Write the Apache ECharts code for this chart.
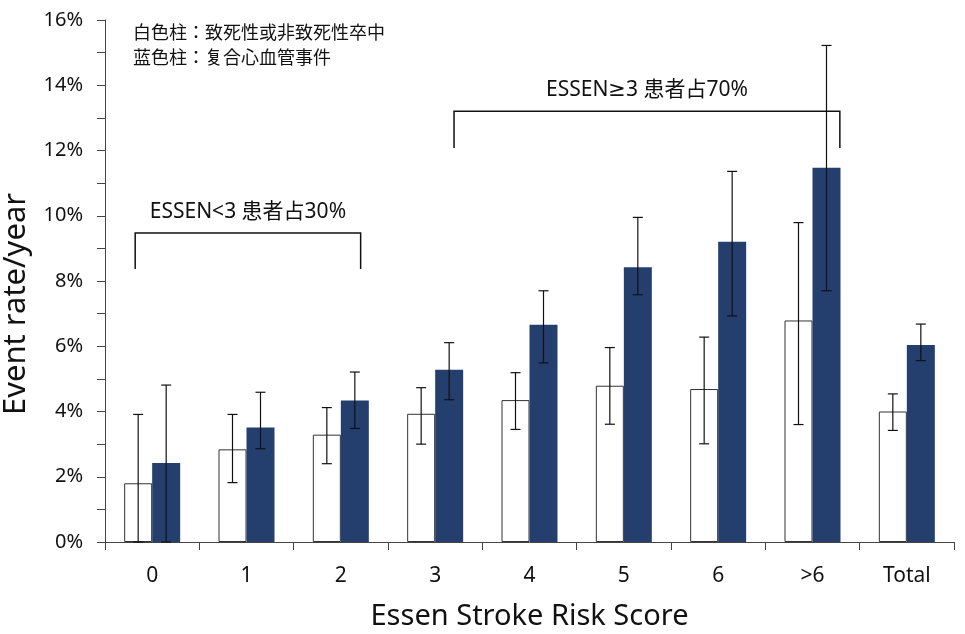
<!DOCTYPE html>
<html>
<head>
<meta charset="utf-8">
<script src="https://cdn.jsdelivr.net/npm/echarts@6/dist/echarts.min.js"></script>
<style>html,body{margin:0;padding:0;background:#fff}#c{width:965px;height:634px}</style>
</head>
<body>
<div id="c"></div>
<script>
var categories = ['0', '1', '2', '3', '4', '5', '6', '>6', 'Total'];
var strokeRate = [1.80, 2.84, 3.29, 3.93, 4.35, 4.79, 4.69, 6.79, 4.00];
var strokeLow  = [0, 1.82, 2.40, 3.00, 3.45, 3.61, 3.01, 3.60, 3.42];
var strokeHigh = [3.91, 3.91, 4.12, 4.73, 5.19, 5.96, 6.28, 9.79, 4.54];
var cvRate = [2.42, 3.51, 4.34, 5.28, 6.66, 8.42, 9.20, 11.47, 6.04];
var cvLow  = [0, 2.86, 3.48, 4.36, 5.49, 7.58, 6.93, 7.70, 5.56];
var cvHigh = [4.81, 4.59, 5.21, 6.11, 7.70, 9.95, 11.36, 15.22, 6.68];
var yTicks = [0, 2, 4, 6, 8, 10, 12, 14, 16];
var legendLines = ['白色柱：致死性或非致死性卒中', '蓝色柱：复合心血管事件'];
var bracketTexts = ['ESSEN<3 患者占30%', 'ESSEN≥3 患者占70%'];
// [start category offset, end category offset, top value, bottom value]
var bracketSpans = [[-0.18, 2.21, 9.47, 8.37], [3.20, 7.29, 13.2, 12.08]];

var FONT = "'Noto Sans', 'DejaVu Sans', 'Noto Sans CJK SC', sans-serif";
var LEGEND_FONT = "'Noto Sans CJK JP', 'Noto Sans CJK SC', sans-serif";
var BAR_W = 28;
var BLUE = '#243f6e';

function errData(low, high) {
  return categories.map(function (c, i) { return [i, low[i], high[i]]; });
}
function errRender(offset) {
  return function (params, api) {
    var lo = api.coord([api.value(0), api.value(1)]);
    var hi = api.coord([api.value(0), api.value(2)]);
    var x = lo[0] + offset;
    var cap = 5;
    var st = { stroke: '#111', lineWidth: 1.2 };
    return {
      type: 'group',
      children: [
        { type: 'line', shape: { x1: x, y1: lo[1], x2: x, y2: hi[1] }, style: st },
        { type: 'line', shape: { x1: x - cap, y1: lo[1], x2: x + cap, y2: lo[1] }, style: st },
        { type: 'line', shape: { x1: x - cap, y1: hi[1], x2: x + cap, y2: hi[1] }, style: st }
      ]
    };
  };
}

var chart = echarts.init(document.getElementById('c'), null, { renderer: 'canvas' });
chart.setOption({
  backgroundColor: '#fff',
  animation: false,
  textStyle: { fontFamily: FONT },
  title: {
    left: 128, top: 15,
    text: legendLines.join('\n'),
    textStyle: { fontFamily: LEGEND_FONT, fontSize: 18, fontWeight: 'normal', color: '#111', lineHeight: 25 }
  },
  grid: { left: 105, right: 11, top: 20, bottom: 92, containLabel: false, outerBoundsMode: 'none' },
  xAxis: {
    type: 'category',
    data: categories,
    name: 'Essen Stroke Risk Score',
    nameLocation: 'middle',
    nameGap: 60,
    nameMoveOverlap: false,
    nameTextStyle: { fontSize: 29, color: '#111', fontFamily: FONT },
    axisLine: { lineStyle: { color: '#444', width: 1 } },
    axisTick: { show: true, length: 8, lineStyle: { color: '#444' } },
    axisLabel: { fontSize: 21, color: '#111', margin: 24, fontFamily: FONT }
  },
  yAxis: {
    type: 'value',
    min: 0, max: 16, interval: 1,
    name: 'Event rate/year',
    nameLocation: 'middle',
    nameGap: 73,
    nameMoveOverlap: false,
    nameTextStyle: { fontSize: 31, color: '#111', fontFamily: FONT, padding: [0, 46, 0, 0] },
    splitLine: { show: false },
    axisLine: { show: true, lineStyle: { color: '#444', width: 1 } },
    axisTick: { show: true, length: 8, lineStyle: { color: '#444' } },
    axisLabel: {
      fontSize: 20, color: '#111', margin: 22, fontFamily: FONT,
      formatter: function (v) { return yTicks.indexOf(v) >= 0 ? v + '%' : ''; }
    }
  },
  series: [
    {
      name: 'stroke', type: 'bar', data: strokeRate, barWidth: BAR_W, barGap: '0%',
      itemStyle: { color: '#fff', borderColor: '#333', borderWidth: 1 }
    },
    {
      name: 'cv', type: 'bar', data: cvRate, barWidth: BAR_W, barGap: '0%',
      itemStyle: { color: BLUE }
    },
    {
      type: 'custom', data: errData(strokeLow, strokeHigh), z: 5,
      encode: { x: 0, y: [1, 2] }, renderItem: errRender(-BAR_W / 2)
    },
    {
      type: 'custom', data: errData(cvLow, cvHigh), z: 5,
      encode: { x: 0, y: [1, 2] }, renderItem: errRender(BAR_W / 2)
    },
    {
      type: 'custom', z: 6,
      data: bracketSpans.map(function (b) { return [0, b[2], b[3]]; }),
      encode: { x: 0, y: [1, 2] },
      renderItem: function (params, api) {
        var b = bracketSpans[params.dataIndex];
        var bandW = api.size([1, 0])[0];
        var top = api.coord([0, b[2]]);
        var bot = api.coord([0, b[3]]);
        var x1 = top[0] + b[0] * bandW;
        var x2 = top[0] + b[1] * bandW;
        var st = { stroke: '#111', lineWidth: 1.5, fill: null };
        return {
          type: 'group',
          children: [
            { type: 'polyline', shape: { points: [[x1, bot[1]], [x1, top[1]], [x2, top[1]], [x2, bot[1]]] }, style: st },
            { type: 'text', style: {
                text: bracketTexts[params.dataIndex], x: (x1 + x2) / 2, y: top[1] - 11,
                align: 'center', verticalAlign: 'bottom',
                font: '21px ' + FONT, fill: '#111'
              } }
          ]
        };
      }
    }
  ]
});
</script>
</body>
</html>
